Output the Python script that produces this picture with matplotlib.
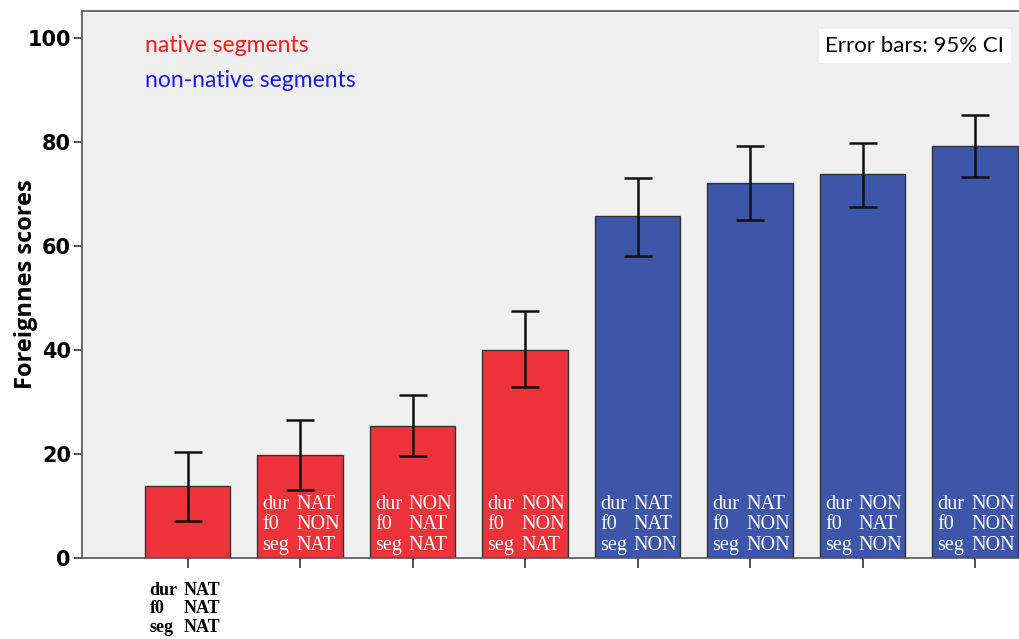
import matplotlib.pyplot as plt

dur = ["NAT", "NAT", "NON", "NON", "NAT", "NAT", "NON", "NON"]
f0 = ["NAT", "NON", "NAT", "NON", "NAT", "NON", "NAT", "NON"]
seg = ["NAT", "NAT", "NAT", "NAT", "NON", "NON", "NON", "NON"]
means = [13.8, 19.8, 25.4, 40.0, 65.8, 72.1, 73.8, 79.2]
ci_low = [7.1, 13.1, 19.6, 32.9, 58.1, 65.0, 67.5, 73.3]
ci_high = [20.4, 26.5, 31.3, 47.5, 73.1, 79.2, 79.8, 85.2]

red = "#ee3239"
blue = "#3d56a9"
colors = [red if s == "NAT" else blue for s in seg]

fig = plt.figure(figsize=(10.2, 6.39), dpi=100)
ax = fig.add_axes([82 / 1020, 1 - 558 / 639, (1020 - 82) / 1020, (558 - 11) / 639])
ax.set_facecolor("#f0f0f0")

x = list(range(len(means)))
yerr = [[m - lo for m, lo in zip(means, ci_low)], [hi - m for m, hi in zip(means, ci_high)]]
ax.bar(x, means, width=0.76, color=colors, edgecolor="#333333", linewidth=1.0, zorder=2)
ax.errorbar(x, means, yerr=yerr, fmt="none", ecolor="#111111", elinewidth=1.8,
            capsize=10, capthick=1.8, zorder=3)

# condition labels: two columns (factor name / level)
for i in x:
    names = "dur\nf0\nseg"
    levels = f"{dur[i]}\n{f0[i]}\n{seg[i]}"
    if i == 0:
        kw = dict(va="top", family="Liberation Serif", fontsize=13, fontweight="bold",
                  linespacing=1.1, color="black")
        ax.text(i - 0.34, -4.6, names, ha="left", **kw)
        ax.text(i - 0.035, -4.6, levels, ha="left", **kw)
    else:
        kw = dict(va="bottom", family="Liberation Serif", fontsize=14.5,
                  linespacing=1.1, color="white", zorder=4)
        ax.text(i - 0.335, 0.6, names, ha="left", **kw)
        ax.text(i - 0.035, 0.6, levels, ha="left", **kw)

ax.set_xlim(-0.94, 7.4)
ax.set_ylim(0, 105.2)
ax.set_xticks(x)
ax.set_xticklabels([])
ax.set_yticks([0, 20, 40, 60, 80, 100])
ax.tick_params(axis="y", labelsize=15, width=1.2, length=6, pad=2, color="#333333")
ax.tick_params(axis="x", width=1.2, length=7, color="#333333")
for t in ax.get_yticklabels():
    t.set_fontweight("bold")
for sp in ["left", "top", "bottom"]:
    ax.spines[sp].set_color("#555555")
    ax.spines[sp].set_linewidth(1.2)
ax.spines["right"].set_visible(False)

ax.set_ylabel("Foreignnes scores", fontsize=17, fontweight="bold", family="Open Sans")
ax.yaxis.set_label_coords(-0.047, 0.5)

ax.text(-0.38, 98.5, "native segments", color="#ff1a1a", fontsize=16.5,
        family="Lato", va="center", ha="left")
ax.text(-0.38, 91.8, "non-native segments", color="#1a1aee", fontsize=16.5,
        family="Lato", va="center", ha="left")
ax.text(5.67, 98.5, "Error bars: 95% CI", color="black", fontsize=16,
        family="Lato", va="center", ha="left",
        bbox=dict(facecolor="white", edgecolor="none", pad=5))

fig.savefig("out.png", dpi=100)
